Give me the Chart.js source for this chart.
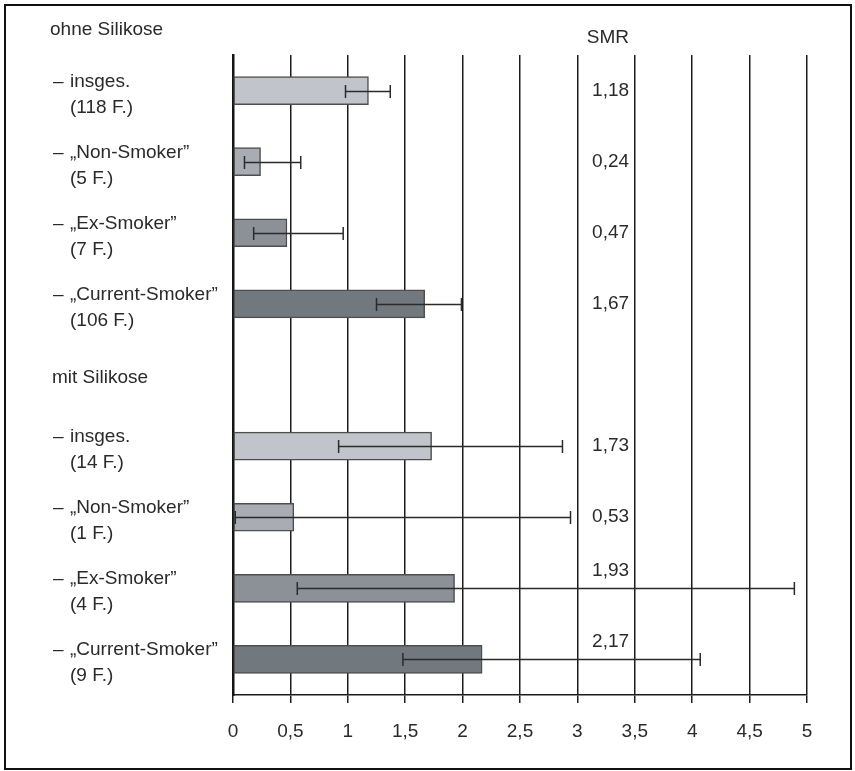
<!DOCTYPE html>
<html lang="de">
<head>
<meta charset="utf-8">
<title>SMR mit Konfidenzintervallen</title>
<script src="https://cdn.jsdelivr.net/npm/chart.js@4.4.1/dist/chart.umd.min.js"></script>
<style>
  html, body { margin: 0; padding: 0; background: #ffffff; }
  #wrap { position: relative; width: 855px; height: 771px; }
</style>
</head>
<body>
<div id="wrap"><canvas id="smrChart" width="855" height="771"></canvas></div>
<script>
// Row layout: four rows per group, one empty row as separator between the groups
const groupTitles = ['ohne Silikose', 'mit Silikose'];
const rowNames   = ['insges.', '„Non-Smoker”', '„Ex-Smoker”', '„Current-Smoker”', '',
                    'insges.', '„Non-Smoker”', '„Ex-Smoker”', '„Current-Smoker”'];
const caseCounts = [118, 5, 7, 106, null, 14, 1, 4, 9];
const rowKinds   = ['all', 'non', 'ex', 'current', 'gap', 'all', 'non', 'ex', 'current'];

// Standardized mortality ratios and their confidence limits
const smr    = [1.18, 0.24, 0.47, 1.67, null, 1.73, 0.53, 1.93, 2.17];
const ciLow  = [0.98, 0.10, 0.18, 1.25, null, 0.92, 0.02, 0.56, 1.48];
const ciHigh = [1.37, 0.59, 0.96, 1.99, null, 2.87, 2.94, 4.89, 4.07];

// Axis ticks
const xTicks = [0, 0.5, 1, 1.5, 2, 2.5, 3, 3.5, 4, 4.5, 5];
const xTickLabels = ['0', '0,5', '1', '1,5', '2', '2,5', '3', '3,5', '4', '4,5', '5'];

const fillByKind = { all: '#c1c5cb', non: '#a9adb3', ex: '#8b9197', current: '#71787e', gap: 'rgba(0,0,0,0)' };
const FONT = '"Liberation Sans", Arial, sans-serif';
const FONT_SIZE = 19;
const INK = '#2a2a2a';

const fmt = v => v.toFixed(2).replace('.', ',');

const annotations = {
  id: 'smrAnnotations',
  afterDatasetsDraw(chart) {
    const ctx = chart.ctx;
    const xs = chart.scales.x;
    const ys = chart.scales.y;
    ctx.save();

    // confidence interval whiskers
    ctx.strokeStyle = '#2b2b2b';
    ctx.lineWidth = 1.5;
    smr.forEach((v, i) => {
      if (v === null) return;
      const y = Math.round(ys.getPixelForValue(i)) + 0.5;
      const x0 = xs.getPixelForValue(ciLow[i]);
      const x1 = xs.getPixelForValue(ciHigh[i]);
      ctx.beginPath();
      ctx.moveTo(x0, y); ctx.lineTo(x1, y);
      ctx.moveTo(x0, y - 6.5); ctx.lineTo(x0, y + 6.5);
      ctx.moveTo(x1, y - 6.5); ctx.lineTo(x1, y + 6.5);
      ctx.stroke();
    });

    ctx.fillStyle = INK;
    ctx.font = FONT_SIZE + 'px ' + FONT;

    // SMR column
    const valueRight = xs.getPixelForValue(3.45);
    ctx.textAlign = 'right';
    ctx.textBaseline = 'middle';
    ctx.fillText('SMR', valueRight, 38);
    smr.forEach((v, i) => {
      if (v === null) return;
      const yc = ys.getPixelForValue(i);
      // a whisker reaching into the column pushes its value above the bar
      const y = ciHigh[i] > 3 ? yc - 18 : yc;
      ctx.fillText(fmt(v), valueRight, y);
    });

    // row labels
    ctx.textAlign = 'left';
    ctx.textBaseline = 'alphabetic';
    rowNames.forEach((name, i) => {
      if (!name) return;
      const yc = ys.getPixelForValue(i);
      ctx.fillText('–', 53, yc - 4);
      ctx.fillText(name, 70, yc - 4);
      ctx.fillText('(' + caseCounts[i] + ' F.)', 70, yc + 22);
    });

    // group headings
    ctx.fillText(groupTitles[0], 50, 35);
    ctx.fillText(groupTitles[1], 52, ys.getPixelForValue(4) + 8);

    // frame
    ctx.strokeStyle = '#111111';
    ctx.lineWidth = 2;
    ctx.strokeRect(5, 5, 846, 764);
    ctx.restore();
  }
};

new Chart(document.getElementById('smrChart'), {
  type: 'bar',
  data: {
    labels: rowNames.map((n, i) => n || 'sep' + i),
    datasets: [{
      data: smr,
      backgroundColor: rowKinds.map(k => fillByKind[k]),
      borderColor: '#4e4e4e',
      borderWidth: 1.5,
      borderSkipped: false,
      barThickness: 28
    }]
  },
  options: {
    indexAxis: 'y',
    responsive: false,
    animation: false,
    devicePixelRatio: 1,
    layout: { padding: { top: 55, right: 48, left: 0, bottom: 0 } },
    plugins: { legend: { display: false }, tooltip: { enabled: false } },
    scales: {
      x: {
        type: 'linear',
        min: 0,
        max: 5,
        afterBuildTicks: s => { s.ticks = xTicks.map(v => ({ value: v })); },
        afterFit: s => { s.height = 76; },
        ticks: {
          callback: (v) => xTickLabels[xTicks.indexOf(v)],
          color: INK,
          font: { family: FONT, size: FONT_SIZE },
          padding: 17,
          maxRotation: 0,
          autoSkip: false
        },
        grid: { color: '#1c1c1c', lineWidth: 1.5, tickLength: 8, drawTicks: true },
        border: { display: true, color: '#1c1c1c', width: 1.5 }
      },
      y: {
        type: 'category',
        offset: true,
        afterFit: s => { s.width = 233; },
        ticks: { display: false },
        grid: { display: false, drawTicks: false },
        border: { display: true, color: '#151515', width: 2.5 }
      }
    }
  },
  plugins: [annotations]
});
</script>
</body>
</html>
